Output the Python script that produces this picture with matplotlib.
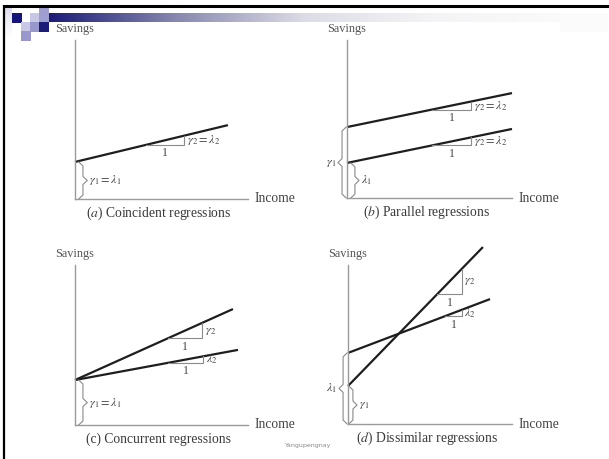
import numpy as np
import matplotlib
matplotlib.use('Agg')
import matplotlib.pyplot as plt
from matplotlib.patches import Rectangle

plt.rcParams['font.family'] = ['Liberation Serif', 'DejaVu Serif']
plt.rcParams['mathtext.fontset'] = 'stix'

# panel content (data units, axes run 0..10 on both directions)
captions = [r'($\it{a}$) Coincident regressions',
            r'($\it{b}$) Parallel regressions',
            r'(c) Concurrent regressions',
            r'($\it{d}$) Dissimilar regressions']

intercepts = [[2.33], [4.49, 2.22], [2.81, 2.81], [2.39, 4.47]]
slopes = [[0.262], [0.215, 0.215], [0.486, 0.200], [1.062, 0.391]]
line_end = [[8.84], [10.0, 10.0], [9.13, 9.42], [8.23, 8.66]]

# slope triangles: start x on the line, run ("1"), label
tri_start = [[4.1], [5.15, 5.15], [5.38, 5.38], [5.43, 5.91]]
tri_run = [[2.2], [2.37, 2.37], [1.96, 2.02], [1.52, 1.04]]
tri_label = [[r'$\gamma_2 = \lambda_2$'],
             [r'$\gamma_2 = \lambda_2$', r'$\gamma_2 = \lambda_2$'],
             [r'$\gamma_2$', r'$\lambda_2$'],
             [r'$\gamma_2$', r'$\lambda_2$']]

# intercept braces: side, x, top, label
brace_side = [['R'], ['L', 'R'], ['R'], ['L', 'R']]
brace_x = [[0.46], [-0.30, 0.48], [0.46], [-0.30, 0.30]]
brace_top = [[2.33], [4.49, 2.22], [2.81], [4.47, 2.39]]
brace_label = [[r'$\gamma_1 = \lambda_1$'],
               [r'$\gamma_1$', r'$\lambda_1$'],
               [r'$\gamma_1 = \lambda_1$'],
               [r'$\lambda_1$', r'$\gamma_1$']]

# axes boxes in pixels: left, right, bottom, top
boxes = [(75, 248, 199, 40), (347, 512, 198, 40),
         (75, 248, 425, 265), (348, 512, 424, 265)]

W, H = 609, 459
fig = plt.figure(figsize=(W / 100, H / 100), dpi=100)

# slide background decoration
bg = fig.add_axes([0, 0, 1, 1], zorder=0)
bg.set_xlim(0, W)
bg.set_ylim(H, 0)
bg.axis('off')
grad = np.linspace(0, 1, 256).reshape(1, -1)
cmap = matplotlib.colors.LinearSegmentedColormap.from_list(
    'bar', ['#1c1c78', '#8888b0', '#dcdce6', '#f4f4f6', '#fafafa'])
bg.imshow(grad, extent=(49, 560, 22, 13), aspect='auto', cmap=cmap)
bg.add_patch(Rectangle((560, 13), 48, 19, color='#fbfbfb', lw=0))
fade = np.linspace(0.35, 0, 64).reshape(-1, 1)
bg.imshow(fade, extent=(5, 12, 37, 7), aspect='auto', cmap='Purples',
          vmin=0, vmax=1, alpha=0.6)
squares = [(12, 13, '#14147a'), (30, 13, '#c8c8e6'), (39, 7, '#9e9ed0'),
           (39, 13, '#9e9ed0'), (21, 22, '#c8c8e6'), (30, 22, '#9898cc'),
           (39, 22, '#1c1c78'), (21, 31, '#9898cc')]
for sx, sy, sc in squares:
    bg.add_patch(Rectangle((sx, sy), 9.5, 9.5, color=sc, lw=0))
bg.plot([3, W], [5.5, 5.5], color='black', lw=2.2, solid_capstyle='butt')
bg.plot([4, 4], [4.5, H], color='black', lw=1.6, solid_capstyle='butt')
bg.text(308, 445, 'Yangupengnay', fontsize=4.5, color='#888888',
        ha='center', va='center', family='DejaVu Sans')

axis_c = '#9a9a9a'
text_c = '#444444'
for i in range(4):
    l, r, b, t = boxes[i]
    ax = fig.add_axes([l / W, 1 - b / H, (r - l) / W, (b - t) / H], zorder=2)
    ax.set_xlim(0, 10)
    ax.set_ylim(0, 10)
    ax.patch.set_alpha(0)
    for s in ['top', 'right']:
        ax.spines[s].set_visible(False)
    for s in ['left', 'bottom']:
        ax.spines[s].set_color(axis_c)
        ax.spines[s].set_linewidth(1.0)
    ax.set_xticks([])
    ax.set_yticks([])

    ax.annotate('Savings', (0, 10), xytext=(0, 3.5), textcoords='offset points',
                ha='center', va='bottom', fontsize=8.8, color='#555555')
    ax.annotate('Income', (10, 0), xytext=(5, 0), textcoords='offset points',
                ha='left', va='center', fontsize=9.8, color=text_c)
    ax.annotate(captions[i], (0.5, 0), xycoords='axes fraction',
                xytext=(-2, -10.5), textcoords='offset points',
                ha='center', va='center', fontsize=9.8, color='#3a3a3a')

    for j in range(len(intercepts[i])):
        a0, b0 = intercepts[i][j], slopes[i][j]
        xs = np.array([0, line_end[i][j]])
        ax.plot(xs, a0 + b0 * xs, color='#1e1e1e', lw=1.6, clip_on=False,
                solid_capstyle='butt')
        x0 = tri_start[i][j]
        x1 = x0 + tri_run[i][j]
        y0 = a0 + b0 * x0
        y1 = a0 + b0 * x1
        ax.plot([x0, x1, x1], [y0, y0, y1], color='#8a8a8a', lw=0.8,
                clip_on=False)
        ax.text((x0 + x1) / 2, y0 - 0.15, '1', ha='center', va='top',
                fontsize=8.5, color=text_c)
        ax.text(x1 + 0.15, (y0 + y1) / 2, tri_label[i][j], ha='left',
                va='center', fontsize=8.8, color=text_c)

    for j in range(len(brace_x[i])):
        xb = brace_x[i][j]
        top = brace_top[i][j]
        ym = top / 2
        d = 0.25 if brace_side[i][j] == 'R' else -0.25
        dy = 0.25
        bx = [xb - d, xb, xb, xb + d, xb, xb, xb - d]
        by = [top, top - dy, ym + dy, ym, ym - dy, dy, 0]
        ax.plot(bx, by, color='#8a8a8a', lw=0.8, clip_on=False)
        if d > 0:
            ax.text(xb + d + 0.1, ym, brace_label[i][j], ha='left',
                    va='center', fontsize=8.8, color=text_c)
        else:
            ax.text(xb + d - 0.1, ym, brace_label[i][j], ha='right',
                    va='center', fontsize=8.8, color=text_c)

plt.savefig('out.png', dpi=100)
